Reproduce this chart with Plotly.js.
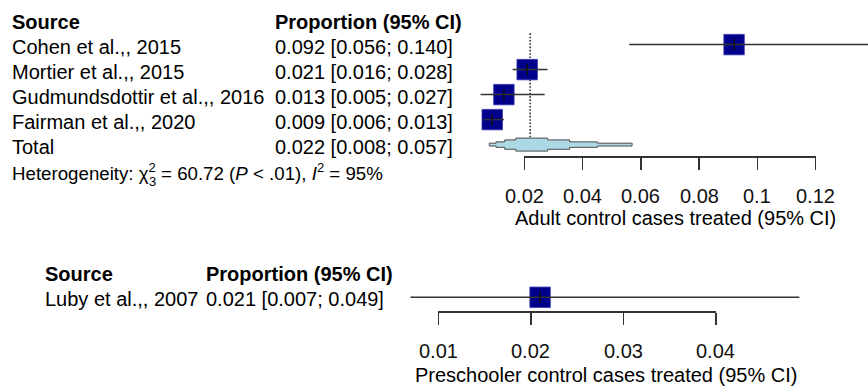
<!DOCTYPE html>
<html>
<head>
<meta charset="utf-8">
<script src="https://cdn.plot.ly/plotly-3.0.1.min.js"></script>
<style>
  html, body { margin: 0; padding: 0; background: #ffffff; }
  #chart { width: 868px; height: 387px; }
</style>
</head>
<body>
<div id="chart"></div>
<script>
// ---- Adult studies ----
const adultSources = ["Cohen et al.,, 2015", "Mortier et al.,, 2015", "Gudmundsdottir et al.,, 2016", "Fairman et al.,, 2020"];
const adultEst   = [0.092, 0.021, 0.013, 0.009];
const adultLower = [0.056, 0.016, 0.005, 0.006];
const adultUpper = [0.140, 0.028, 0.027, 0.013];
const adultTotalEst   = 0.022;
const adultTotalLower = 0.008;
const adultTotalUpper = 0.057;
const hetChi2 = "60.72";
const hetDf   = "3";
const hetP    = "< .01";
const hetI2   = "95%";
const adultTicks      = [0.02, 0.04, 0.06, 0.08, 0.1, 0.12];
const adultTickLabels = ["0.02", "0.04", "0.06", "0.08", "0.1", "0.12"];
const adultAxisTitle  = "Adult control cases treated (95% CI)";

// ---- Preschool study ----
const preSources = ["Luby et al.,, 2007"];
const preEst   = [0.021];
const preLower = [0.007];
const preUpper = [0.049];
const preTicks      = [0.01, 0.02, 0.03, 0.04];
const preTickLabels = ["0.01", "0.02", "0.03", "0.04"];
const preAxisTitle  = "Preschooler control cases treated (95% CI)";

// ---- page geometry (pixels) ----
const W = 868, H = 387;
const FONT = "Liberation Sans, Arial, sans-serif";
const INK = "#000000";
const AXIS_INK = "#333333";

// horizontal scales: pixel = origin + perUnit * value
const TOP_ORIGIN = 466.0, TOP_PER_UNIT = 2914;
const BOT_ORIGIN = 345.7, BOT_PER_UNIT = 9257;
// vertical rows: pixel = first + step * rowIndex (row 0 = header)
const ROW_STEP = 25;
const TOP_ROW0 = 19.6, TOP_AXIS_PX = 156, TOP_TICKLABEL_PX = 196.2;
const BOT_ROW0 = 272.3, BOT_AXIS_PX = 311, BOT_TOP_PX = 255, BOT_TICKLABEL_PX = 350.8;

const px2val = (p, o, k) => (p - o) / k;
const val2px = (v, o, k) => o + k * v;
const fmt = v => v.toFixed(3);
const ciText = (e, l, u) => fmt(e) + " [" + fmt(l) + "; " + fmt(u) + "]";

function segs(lo, hi, rows) {
  const xs = [], ys = [];
  lo.forEach((l, i) => { xs.push(l, hi[i], null); ys.push(rows[i], rows[i], null); });
  return { x: xs, y: ys };
}

// summary diamond drawn on the logit scale, rendered as a stepped outline
function diamond(lo, est, hi, row, half) {
  const logit = p => Math.log(p / (1 - p));
  const inv = z => 1 / (1 + Math.exp(-z));
  const zl = logit(lo), ze = logit(est), zh = logit(hi);
  const levels = [0.22, 0.42, 0.72, 1.0];
  const n = levels.length;
  const left = [], right = [];
  for (let j = 0; j <= n; j++) {
    left.push(inv(zl + (ze - zl) * j / n));
    right.push(inv(zh - (zh - ze) * j / n));
  }
  const xs = [], ys = [];
  xs.push(lo); ys.push(row);
  for (let j = 0; j < n; j++) {
    xs.push(left[j], left[j + 1]); ys.push(row - half * levels[j], row - half * levels[j]);
  }
  for (let j = n - 1; j >= 0; j--) {
    xs.push(right[j + 1], right[j]); ys.push(row - half * levels[j], row - half * levels[j]);
  }
  xs.push(hi); ys.push(row);
  for (let j = 0; j < n; j++) {
    xs.push(right[j], right[j + 1]); ys.push(row + half * levels[j], row + half * levels[j]);
  }
  for (let j = n - 1; j >= 0; j--) {
    xs.push(left[j + 1], left[j]); ys.push(row + half * levels[j], row + half * levels[j]);
  }
  xs.push(lo); ys.push(row);
  return { x: xs, y: ys };
}

const adultRows = adultSources.map((_, i) => i + 1);
const totalRow = adultSources.length + 1;
const hetRow = totalRow + 1;
const preRows = preSources.map((_, i) => i + 1);

const SQUARE = { symbol: "square", size: 20.5, color: "#00008B", line: { color: "#3c3cb4", width: 0.8 } };
const TICKMARK = { symbol: "line-ns", size: 8, line: { color: "#111111", width: 1.5 } };
const CI_LINE = { color: "#333333", width: 1.5 };

const dia = diamond(adultTotalLower, adultTotalEst, adultTotalUpper, totalRow, 6.5 / ROW_STEP);
const adultSeg = segs(adultLower, adultUpper, adultRows);
const preSeg = segs(preLower, preUpper, preRows);

const traces = [
  { x: [adultTotalEst, adultTotalEst], y: [0.55, totalRow + 0.2], xaxis: "x", yaxis: "y", mode: "lines",
    line: { color: "#000000", width: 1.3, dash: "1.6px,1.7px" }, hoverinfo: "skip" },
  { x: dia.x, y: dia.y, xaxis: "x", yaxis: "y", mode: "lines", fill: "toself",
    fillcolor: "#ADD8E6", line: { color: "#4a4a4a", width: 1 }, hoverinfo: "skip" },
  { x: adultEst, y: adultRows, xaxis: "x", yaxis: "y", mode: "markers", marker: SQUARE },
  { x: adultSeg.x, y: adultSeg.y, xaxis: "x", yaxis: "y", mode: "lines", line: CI_LINE },
  { x: adultEst, y: adultRows, xaxis: "x", yaxis: "y", mode: "markers", marker: TICKMARK },

  { x: preEst, y: preRows, xaxis: "x2", yaxis: "y2", mode: "markers", marker: SQUARE },
  { x: preSeg.x, y: preSeg.y, xaxis: "x2", yaxis: "y2", mode: "lines", line: CI_LINE },
  { x: preEst, y: preRows, xaxis: "x2", yaxis: "y2", mode: "markers", marker: TICKMARK },

  // empty traces that register the two tick axes as subplots
  { x: [], y: [], xaxis: "x3", yaxis: "y", mode: "markers", hoverinfo: "skip" },
  { x: [], y: [], xaxis: "x4", yaxis: "y2", mode: "markers", hoverinfo: "skip" }
];

const hidden = { visible: false, fixedrange: true, autorange: false };
const tickAxis = {
  visible: true, showline: true, linecolor: AXIS_INK, linewidth: 1.5,
  ticks: "outside", ticklen: 12, tickwidth: 1.5, tickcolor: AXIS_INK,
  tickmode: "array", showticklabels: false,
  showgrid: false, zeroline: false, fixedrange: true, autorange: false
};

const topBottomFrac = (H - TOP_AXIS_PX) / H;
const botBottomFrac = (H - BOT_AXIS_PX) / H;
const botTopFrac = (H - BOT_TOP_PX) / H;

const layout = {
  width: W, height: H,
  margin: { l: 0, r: 0, t: 0, b: 0, pad: 0 },
  paper_bgcolor: "#ffffff", plot_bgcolor: "rgba(0,0,0,0)",
  showlegend: false,
  font: { family: FONT, size: 20, color: INK },
  xaxis: Object.assign({}, hidden, { domain: [0, 1], anchor: "y",
    range: [px2val(0, TOP_ORIGIN, TOP_PER_UNIT), px2val(W, TOP_ORIGIN, TOP_PER_UNIT)] }),
  yaxis: Object.assign({}, hidden, { domain: [topBottomFrac, 1], anchor: "x",
    range: [(TOP_AXIS_PX - TOP_ROW0) / ROW_STEP, (0 - TOP_ROW0) / ROW_STEP] }),
  xaxis2: Object.assign({}, hidden, { domain: [0, 1], anchor: "y2",
    range: [px2val(0, BOT_ORIGIN, BOT_PER_UNIT), px2val(W, BOT_ORIGIN, BOT_PER_UNIT)] }),
  yaxis2: Object.assign({}, hidden, { domain: [botBottomFrac, botTopFrac], anchor: "x2",
    range: [(BOT_AXIS_PX - BOT_ROW0) / ROW_STEP, (BOT_TOP_PX - BOT_ROW0) / ROW_STEP] }),
  xaxis3: Object.assign({}, tickAxis, { anchor: "y",
    domain: [val2px(adultTicks[0], TOP_ORIGIN, TOP_PER_UNIT) / W, val2px(adultTicks[adultTicks.length - 1], TOP_ORIGIN, TOP_PER_UNIT) / W],
    range: [adultTicks[0], adultTicks[adultTicks.length - 1]],
    tickvals: adultTicks }),
  xaxis4: Object.assign({}, tickAxis, { anchor: "y2",
    domain: [val2px(preTicks[0], BOT_ORIGIN, BOT_PER_UNIT) / W, val2px(preTicks[preTicks.length - 1], BOT_ORIGIN, BOT_PER_UNIT) / W],
    range: [preTicks[0], preTicks[preTicks.length - 1]],
    tickvals: preTicks }),
  annotations: []
};

function note(xPx, y, yref, text, extra) {
  layout.annotations.push(Object.assign({
    x: xPx / W, xref: "paper", y: y, yref: yref, text: text,
    xanchor: "left", yanchor: "middle", showarrow: false, borderpad: 0, yshift: -2,
    font: { family: FONT, size: 20, color: INK }
  }, extra || {}));
}
const topRowPaper = r => (H - (TOP_ROW0 + ROW_STEP * r)) / H;

// tick labels, placed on the tick axes' own scales
function tickLabels(vals, labels, xref, yPx) {
  vals.forEach((v, i) => {
    layout.annotations.push({
      x: v, xref: xref, y: (H - yPx) / H, yref: "paper", text: labels[i],
      xanchor: "center", yanchor: "middle", showarrow: false, borderpad: 0,
      font: { family: FONT, size: 20, color: "#111111" }
    });
  });
}
tickLabels(adultTicks, adultTickLabels, "x3", TOP_TICKLABEL_PX);
tickLabels(preTicks, preTickLabels, "x4", BOT_TICKLABEL_PX);

// adult table
note(11, 0, "y", "<b>Source</b>");
note(274, 0, "y", "<b>Proportion (95% CI)</b>");
adultSources.forEach((s, i) => {
  note(11, adultRows[i], "y", s);
  note(274, adultRows[i], "y", ciText(adultEst[i], adultLower[i], adultUpper[i]));
});
note(11, totalRow, "y", "Total");
note(274, totalRow, "y", ciText(adultTotalEst, adultTotalLower, adultTotalUpper));
note(11, topRowPaper(hetRow), "paper",
     "Heterogeneity: χ<sup>2</sup> = " + hetChi2 + " (<i>P</i> " + hetP + "), <i>I</i><sup>2</sup> = " + hetI2,
     { font: { family: FONT, size: 18.7, color: INK } });
// degrees of freedom, set beneath the chi-square exponent
note(152, (H - 181) / H, "paper", hetDf, { xanchor: "center", yshift: 0, font: { family: FONT, size: 13, color: INK } });
note(675, (H - 218) / H, "paper", adultAxisTitle, { xanchor: "center", yshift: 0 });

// preschool table
note(44, 0, "y2", "<b>Source</b>");
note(205, 0, "y2", "<b>Proportion (95% CI)</b>");
preSources.forEach((s, i) => {
  note(44, preRows[i], "y2", s);
  note(205, preRows[i], "y2", ciText(preEst[i], preLower[i], preUpper[i]));
});
note(606, (H - 375) / H, "paper", preAxisTitle, { xanchor: "center", yshift: 0 });

Plotly.newPlot("chart", traces, layout, { staticPlot: true, displayModeBar: false });
</script>
</body>
</html>
